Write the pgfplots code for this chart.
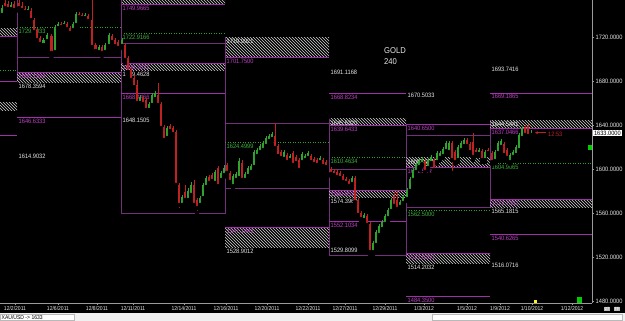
\documentclass[border=0pt]{standalone}
\usepackage{pgfplots}
\pgfplotsset{compat=1.18}
\usepackage{pgfplotstable}
\usepackage{fontspec}
\setmainfont{Liberation Sans}
\newfontfamily\px{Liberation Sans}[FakeStretch=0.9]
\usetikzlibrary{patterns,arrows.meta}

\definecolor{cup}{HTML}{2FA52F}
\definecolor{cdn}{HTML}{C02222}
\definecolor{pur}{HTML}{A030A8}
\definecolor{purtxt}{HTML}{C040C8}
\definecolor{boxc}{HTML}{74307C}
\definecolor{grn}{HTML}{2E9E2E}
\definecolor{grntxt}{HTML}{3CB43C}
\definecolor{wtxt}{HTML}{E6E6E6}
\definecolor{hatchc}{HTML}{D2D2D2}
\definecolor{axc}{HTML}{9A9A9A}

\newcommand\lf{\px\fontsize{6.3}{7}\selectfont}
\newcommand\xf{\px\fontsize{5.6}{6}\selectfont}

% helpers (x in chart pixels, y in price)
\newcommand\hl[4]{\draw[#4, line width=0.6pt] (axis cs:#1,#3) -- (axis cs:#2,#3);}
\newcommand\gd[3]{\draw[grn, line width=0.6pt, dash pattern=on 1pt off 1.5pt] (axis cs:#1,#3) -- (axis cs:#2,#3);}
\newcommand\hz[4]{\fill[pattern=north west lines, pattern color=hatchc] (axis cs:#1,#3) rectangle (axis cs:#2,#4);}
\newcommand\vl[3]{\draw[boxc, line width=0.6pt] (axis cs:#1,#2) -- (axis cs:#1,#3);}
\newcommand\lb[4]{\node[anchor=north west, inner sep=0pt, text=#3, font=\lf] at ([xshift=1.5pt,yshift=-1.5pt]axis cs:#1,#2) {#4};}

% bullish candles: x open high low close
\pgfplotstableread{
x o h l c
2 1740.0 1749.1 1738.2 1746.3
11 1745.4 1751.8 1743.6 1749.1
28 1742.7 1748.2 1740.9 1745.4
43.5 1712.7 1719.1 1710.0 1717.2
47 1716.3 1723.6 1713.6 1721.8
55 1706.3 1730.9 1704.5 1729.1
58 1728.1 1733.6 1725.4 1731.8
64 1730.0 1734.5 1728.1 1732.7
73 1726.3 1733.6 1724.5 1731.8
76 1730.9 1742.7 1729.1 1740.9
85 1737.2 1741.8 1735.4 1740.0
99 1706.3 1712.7 1704.5 1710.9
105 1706.3 1714.5 1704.5 1712.7
109 1711.8 1723.6 1709.1 1721.8
122 1711.8 1719.1 1710.0 1717.2
140 1660.0 1667.3 1658.2 1665.5
149 1653.6 1660.9 1651.8 1659.1
152 1658.2 1669.1 1656.4 1667.3
155 1663.6 1671.0 1661.8 1669.1
167 1628.2 1639.1 1626.3 1637.2
182 1567.3 1576.4 1564.5 1574.5
188 1571.8 1582.7 1568.2 1580.0
191 1576.4 1588.2 1573.6 1585.5
200 1567.3 1575.5 1565.5 1573.6
203 1573.6 1587.3 1571.8 1585.5
206 1583.6 1593.6 1581.8 1591.8
215 1587.3 1599.1 1585.5 1597.3
221 1590.0 1598.2 1588.2 1596.4
224 1594.5 1603.6 1592.7 1600.9
233 1584.5 1595.5 1582.7 1593.6
236 1590.0 1597.3 1588.2 1595.5
239 1591.8 1609.9 1590.0 1607.2
245 1590.0 1597.3 1588.2 1595.5
248 1593.6 1602.7 1590.9 1600.9
251 1597.3 1604.5 1595.5 1602.7
254 1601.8 1617.2 1600.0 1615.4
257 1611.8 1619.1 1609.9 1617.2
260 1615.4 1622.7 1613.6 1620.9
263 1617.2 1625.4 1615.4 1623.6
266 1620.9 1629.9 1619.1 1628.1
269 1625.4 1631.8 1623.6 1629.9
272 1627.2 1633.6 1625.4 1631.8
284 1609.1 1617.2 1607.2 1615.4
290 1608.1 1613.6 1606.3 1611.8
302 1606.3 1615.4 1604.5 1613.6
305 1608.1 1613.6 1606.3 1611.8
308 1610.0 1616.3 1608.1 1614.5
320 1606.3 1611.8 1604.5 1610.0
352 1586.4 1593.6 1584.5 1591.8
364 1553.6 1560.0 1551.8 1558.2
373 1524.5 1534.5 1521.8 1532.7
376 1530.9 1544.5 1528.1 1542.7
379 1540.0 1550.0 1537.2 1548.2
382 1545.4 1553.6 1543.6 1551.8
385 1550.0 1559.1 1547.3 1557.3
388 1555.4 1564.5 1552.7 1562.7
391 1561.8 1573.6 1559.1 1571.8
400 1565.5 1571.8 1563.6 1570.0
403 1569.1 1576.4 1567.3 1574.5
407 1572.7 1582.7 1570.9 1580.9
410 1580.0 1592.7 1578.2 1590.9
413 1590.0 1600.9 1588.2 1599.1
416 1597.3 1606.3 1595.5 1604.5
419 1601.8 1609.0 1600.0 1607.2
422 1604.5 1610.9 1602.7 1609.0
428 1600.9 1609.9 1599.1 1608.1
431 1605.4 1612.7 1603.6 1610.9
437 1606.3 1616.3 1604.5 1614.5
440 1610.0 1616.3 1608.1 1614.5
443 1611.8 1619.9 1609.9 1618.1
446 1616.3 1625.4 1614.5 1623.6
449 1615.4 1625.4 1613.6 1623.6
458 1608.1 1621.8 1606.3 1619.9
461 1617.2 1625.4 1615.4 1623.6
464 1620.9 1628.1 1619.1 1626.3
479 1613.6 1619.1 1611.8 1617.2
485 1608.1 1617.2 1606.3 1615.4
495 1607.2 1617.2 1605.4 1615.4
498 1614.5 1625.4 1612.7 1623.6
501 1620.0 1627.2 1618.1 1625.4
510 1606.3 1614.5 1604.5 1612.7
513 1610.9 1617.2 1609.1 1615.4
516 1612.7 1621.8 1610.9 1619.9
519 1617.2 1632.7 1615.4 1630.9
522 1628.1 1639.1 1626.3 1637.2
531 1630.9 1635.4 1630.0 1633.0
}\upT

% bearish candles: x open high low close
\pgfplotstableread{
x o h l c
5 1750.9 1753.6 1742.7 1746.3
8 1750.0 1752.7 1742.7 1745.4
14 1750.0 1752.7 1741.8 1744.5
19 1750.9 1753.6 1743.6 1746.3
22 1748.2 1751.8 1741.8 1744.5
25 1745.4 1748.2 1740.9 1742.7
31 1743.6 1746.3 1731.8 1735.4
34 1735.4 1737.2 1720.9 1724.5
37 1726.3 1728.1 1715.4 1717.2
40 1719.1 1720.9 1710.9 1713.6
51.5 1720.9 1722.7 1701.8 1705.4
61 1731.8 1733.6 1727.2 1729.1
67 1731.8 1733.6 1725.4 1727.2
70 1728.1 1730.0 1720.9 1723.6
79 1740.9 1742.7 1736.3 1738.2
82 1740.0 1741.8 1735.4 1737.2
88 1739.1 1740.9 1732.7 1734.5
92 1735.4 1753.6 1708.1 1710.9
95.5 1712.7 1714.5 1704.5 1707.2
102 1710.9 1712.7 1702.7 1705.4
112 1720.9 1722.7 1712.7 1715.4
115 1717.2 1719.1 1710.0 1711.8
118 1715.4 1717.2 1708.1 1710.0
125 1712.7 1714.5 1696.3 1699.1
128 1700.9 1702.7 1685.5 1688.2
131 1690.0 1691.8 1678.2 1680.9
134 1682.7 1685.5 1671.8 1674.5
137 1676.4 1680.9 1657.2 1660.0
143 1664.5 1666.4 1657.2 1659.1
146 1662.7 1664.5 1651.8 1653.6
158 1667.3 1678.2 1656.4 1658.2
161 1659.1 1660.9 1635.4 1637.3
164 1638.2 1640.0 1623.6 1626.3
170 1639.1 1640.9 1632.7 1634.5
173 1637.2 1639.1 1630.0 1631.8
176 1633.6 1635.4 1583.6 1585.5
179 1585.5 1587.3 1562.7 1567.3
185 1579.1 1585.5 1569.1 1571.8
194 1585.5 1590.0 1563.6 1567.3
197 1571.8 1573.6 1560.0 1564.5
209 1592.7 1594.5 1585.5 1587.3
212 1594.5 1596.4 1586.4 1589.1
218 1600.9 1602.7 1582.7 1584.5
227 1603.6 1605.4 1593.6 1596.4
230 1596.4 1598.2 1586.4 1588.2
242 1605.4 1608.1 1588.2 1590.0
275 1629.9 1641.8 1617.2 1619.1
278 1620.9 1622.7 1609.9 1611.7
281 1615.4 1617.2 1608.1 1609.9
287 1612.7 1614.5 1604.5 1606.3
293 1614.5 1616.3 1601.8 1603.6
296 1610.9 1612.7 1603.6 1605.4
299 1608.1 1609.9 1596.4 1599.1
311 1611.8 1613.6 1604.5 1606.3
314 1609.1 1610.9 1602.7 1604.5
317 1608.1 1609.9 1601.8 1603.6
323 1608.1 1609.9 1600.9 1602.7
326 1606.3 1608.1 1600.0 1601.8
331 1600.0 1601.8 1593.6 1595.5
334 1598.2 1600.0 1592.7 1594.5
337 1597.3 1599.1 1590.9 1592.7
340 1596.4 1598.2 1590.0 1591.8
343 1593.6 1595.5 1586.4 1588.2
346 1590.9 1592.7 1585.5 1587.3
349 1589.1 1590.9 1582.7 1584.5
355 1591.8 1593.6 1568.2 1570.0
358 1571.8 1573.6 1556.4 1558.2
361 1560.0 1561.8 1552.7 1554.5
367 1557.3 1559.1 1547.3 1549.1
370 1550.0 1551.8 1521.8 1524.5
394 1575.5 1579.1 1564.5 1566.4
397 1571.8 1580.9 1561.8 1563.6
425 1607.2 1609.0 1594.5 1597.3
434 1608.1 1609.9 1597.3 1599.1
452 1623.6 1625.4 1596.4 1608.1
455 1615.4 1617.2 1604.5 1606.3
467 1626.3 1628.1 1619.1 1620.9
470 1622.7 1624.5 1613.6 1615.4
473 1624.5 1632.7 1608.1 1610.9
476 1617.2 1619.1 1611.8 1613.6
482 1616.3 1618.1 1606.3 1608.1
488 1617.2 1619.1 1612.7 1614.5
492 1614.5 1616.3 1604.5 1606.3
504 1622.7 1624.5 1610.9 1612.7
507 1617.2 1619.1 1608.1 1610.0
525 1638.2 1640.0 1629.1 1630.9
528 1639.1 1640.9 1628.1 1630.0
}\dnT

\begin{document}
\begin{tikzpicture}
\useasboundingbox (0,0) rectangle (625pt,321pt);
\fill[black] (0,0) rectangle (625pt,321pt);
% status bar
\fill[gray!12] (0,0) rectangle (625pt,7.5pt);
\draw[gray!55, fill=white, line width=0.4pt] (0.3pt,0.5pt) rectangle (74pt,7pt);
\node[anchor=west, inner sep=0pt, font=\xf, text=black] at (1.5pt,3.8pt) {XAU/USD -> 1633};
\draw[gray!55, fill=white, line width=0.4pt] (432pt,0.5pt) rectangle (622pt,7pt);
\begin{axis}[
  at={(0pt,18pt)}, anchor=south west,
  width=592pt, height=303pt, scale only axis,
  xmin=0, xmax=592, ymin=1478.18, ymax=1753.64,
  axis x line*=bottom, axis y line*=right,
  axis line style={axc, line width=0.6pt},
  xtick={15,58,97,133,184,226,267,308,345,385,424,467,500,532,572},
  xticklabels={12/2/2011,12/6/2011,12/8/2011,12/11/2011,12/14/2011,12/16/2011,12/20/2011,12/22/2011,12/27/2011,12/29/2011,1/3/2012,1/5/2012,1/9/2012,1/10/2012,1/12/2012},
  ytick={1480,1520,1560,1600,1640,1680,1720},
  yticklabels={1480.0000,1520.0000,1560.0000,1600.0000,1640.0000,1680.0000,1720.0000},
  /pgf/number format/assume math mode=true,
  tick style={axc, line width=0.4pt},
  major tick length=2pt, tick align=outside,
  xticklabel style={font=\xf, text=wtxt, inner sep=1pt},
  yticklabel style={font=\lf, text=wtxt, inner sep=1.5pt},
  clip=true,
]
% ---- previous period (left edge)
\hz{0}{17}{1728.1}{1720.9}
\hl{0}{17}{1720.9}{pur}
\gd{0}{17}{1690.0}
\hl{0}{17}{1680.0}{pur}
\hz{0}{17}{1660.9}{1653.6}
\hl{0}{17}{1630.9}{pur}
\vl{17}{1760}{1680.0}
% ---- period A
\gd{17}{121}{1729.1033}\lb{17}{1729.1033}{grntxt}{1729.1033}
\hl{17}{121}{1701.8}{boxc}
\hz{17}{121}{1688.1553}{1678.3594}\hl{17}{121}{1688.1553}{pur}
\lb{17}{1688.1553}{purtxt}{1688.1553}\lb{17}{1678.3594}{wtxt}{1678.3594}
\hl{17}{121}{1646.6333}{pur}\lb{17}{1646.6333}{purtxt}{1646.6333}
\lb{17}{1614.9032}{wtxt}{1614.9032}
% ---- period B
\hz{121}{225}{1760}{1749.9665}\hl{121}{225}{1749.9665}{pur}\lb{121}{1749.9665}{purtxt}{1749.9665}
\gd{121}{225}{1722.9166}\lb{121}{1722.9166}{grntxt}{1722.9166}
\draw[boxc, line width=0.6pt] (axis cs:121,1714.5) rectangle (axis cs:225,1560.0);
\hz{121}{225}{1696.3}{1689.4628}\hl{121}{225}{1696.3}{pur}
\lb{121}{1696.3}{purtxt}{1696.3021}\lb{121}{1689.4628}{wtxt}{1689.4628}
\hl{121}{225}{1668.4466}{pur}\lb{121}{1668.4466}{purtxt}{1668.4466}
\lb{121}{1648.1505}{wtxt}{1648.1505}
\vl{121}{1760}{1714.5}
% ---- period C
\hz{225}{329}{1719.9921}{1701.75}\lb{225}{1719.9921}{wtxt}{1719.9921}
\hl{225}{329}{1701.75}{pur}\lb{225}{1701.75}{purtxt}{1701.7500}
\draw[boxc, line width=0.6pt] (axis cs:225,1641.8) rectangle (axis cs:329,1582.7);
\gd{225}{329}{1624.4999}\lb{225}{1624.4999}{grntxt}{1624.4999}
\hz{225}{329}{1547.1449}{1528.9012}\hl{225}{329}{1547.1449}{pur}
\lb{225}{1547.1449}{purtxt}{1547.1449}\lb{225}{1528.9012}{wtxt}{1528.9012}
\vl{225}{1719.9921}{1641.8}
% ---- period D
\lb{329}{1691.1168}{wtxt}{1691.1168}
\hl{329}{406}{1668.8234}{pur}\lb{329}{1668.8234}{purtxt}{1668.8234}
\hz{329}{406}{1645.5320}{1639.6433}\lb{329}{1645.5320}{wtxt}{1645.5320}
\hl{329}{406}{1639.6433}{pur}\lb{329}{1639.6433}{purtxt}{1639.6433}
\gd{329}{406}{1610.4634}\lb{329}{1610.4634}{grntxt}{1610.4634}
\draw[boxc, line width=0.6pt] (axis cs:329,1600.0) rectangle (axis cs:406,1521.8);
\hz{329}{406}{1580.9}{1574.3968}\hl{329}{406}{1580.9}{pur}
\lb{329}{1580.9}{purtxt}{1580.9521}\lb{329}{1574.3968}{wtxt}{1574.3968}
\hl{329}{406}{1552.1034}{pur}\lb{329}{1552.1034}{purtxt}{1552.1034}
\lb{329}{1529.8099}{wtxt}{1529.8099}
\vl{329}{1645.532}{1600}\vl{406}{1639.6433}{1600}
% ---- period E
\lb{406}{1670.5033}{wtxt}{1670.5033}
\hl{406}{490}{1640.65}{pur}\lb{406}{1640.65}{purtxt}{1640.6500}
\draw[boxc, line width=0.6pt] (axis cs:406,1631.0) rectangle (axis cs:490,1565.5);
\hz{406}{490}{1610.0}{1601.5149}\lb{406}{1610.0}{wtxt}{1609.9721}
\hl{406}{490}{1601.5149}{pur}\lb{406}{1601.5149}{purtxt}{1601.5149}
\gd{406}{490}{1562.5}\lb{406}{1562.5}{grntxt}{1562.5000}
\hz{406}{490}{1523.6}{1514.2032}\hl{406}{490}{1523.6}{pur}
\lb{406}{1523.6}{purtxt}{1523.6250}\lb{406}{1514.2032}{wtxt}{1514.2032}
\hl{406}{490}{1484.35}{pur}\lb{406}{1484.35}{purtxt}{1484.3500}
\vl{490}{1644.5}{1631.0}
% ---- period F
\lb{490}{1693.7416}{wtxt}{1693.7416}
\hl{490}{592}{1669.1865}{pur}\lb{490}{1669.1865}{purtxt}{1669.1865}
\hz{490}{592}{1644.5}{1637.0466}\lb{490}{1644.5}{wtxt}{1644.5441}
\hl{490}{592}{1637.0466}{pur}\lb{490}{1637.0466}{purtxt}{1637.0466}
\gd{490}{592}{1604.9065}\lb{490}{1604.9065}{grntxt}{1604.9065}
\hz{490}{592}{1572.7}{1565.1815}\hl{490}{592}{1572.7}{pur}
\lb{490}{1572.7}{purtxt}{1572.7382}\lb{490}{1565.1815}{wtxt}{1565.1815}
\hl{490}{592}{1540.6265}{pur}\lb{490}{1540.6265}{purtxt}{1540.6265}
\lb{490}{1516.0716}{wtxt}{1516.0716}
% ---- title
\node[anchor=north west, inner sep=0pt, text=wtxt, align=left, font=\px\fontsize{8.5}{11}\selectfont] at (axis cs:384,1711) {GOLD\\240};
% ---- candles: wicks
\addplot[only marks, mark=none, forget plot, error bars/.cd, y dir=plus, y explicit, error mark=none,
  error bar style={draw=cup, line width=0.6pt}]
  table[x=x, y=l, y error plus expr={\thisrow{h}-\thisrow{l}}] {\upT};
\addplot[only marks, mark=none, forget plot, error bars/.cd, y dir=plus, y explicit, error mark=none,
  error bar style={draw=cdn, line width=0.6pt}]
  table[x=x, y=l, y error plus expr={\thisrow{h}-\thisrow{l}}] {\dnT};
% ---- candles: bodies
\addplot[only marks, mark=none, forget plot, error bars/.cd, y dir=plus, y explicit, error mark=none,
  error bar style={draw=cup, line width=2.2pt}]
  table[x=x, y=o, y error plus expr={\thisrow{c}-\thisrow{o}}] {\upT};
\addplot[only marks, mark=none, forget plot, error bars/.cd, y dir=plus, y explicit, error mark=none,
  error bar style={draw=cdn, line width=2.2pt}]
  table[x=x, y=c, y error plus expr={\thisrow{o}-\thisrow{c}}] {\dnT};
% ---- current price arrow
\draw[cdn, line width=0.7pt, -{Stealth[length=3pt,width=3pt]}] (axis cs:546,1633) -- (axis cs:535,1633);
\node[anchor=west, inner sep=0pt, text=cdn, font=\lf] at (axis cs:548,1631.5) {12:53};
\end{axis}
% price box on the right axis
\node[anchor=west, fill=white, text=black, inner sep=0.8pt, font=\lf] at (593pt,188pt) {1633.0000};
\fill[green!80!black] (588pt,171pt) rectangle (592pt,176pt);
\fill[green!80!black] (577pt,18pt) rectangle (582pt,24pt);
\fill[yellow!90!white] (534pt,18pt) rectangle (537pt,21pt);
\node[fill=gray!55, text=white, inner sep=0.6pt, font=\px\fontsize{4.5}{5}\selectfont] at (607pt,12pt) {27};
\node[fill=gray!55, text=white, inner sep=0.6pt, font=\px\fontsize{4.5}{5}\selectfont] at (617pt,12pt) {TF};
\end{tikzpicture}
\end{document}
